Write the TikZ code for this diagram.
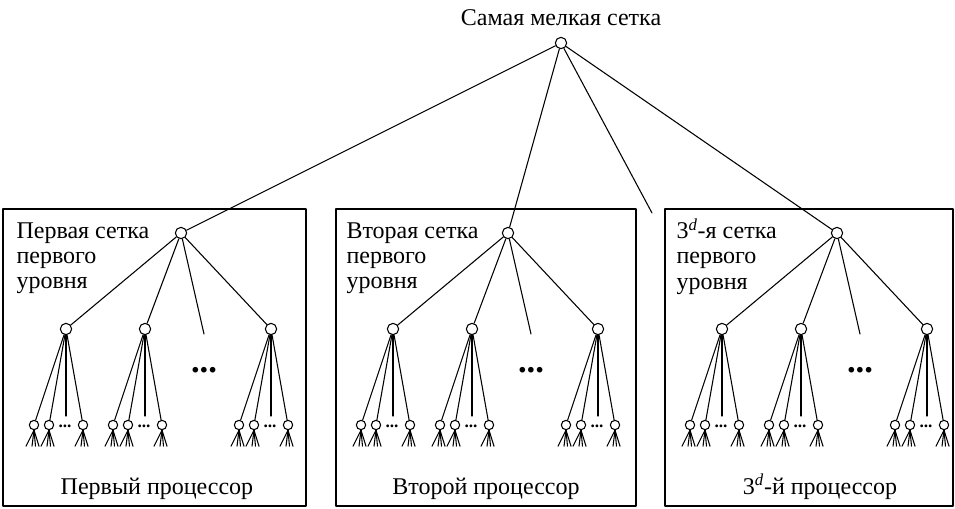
\documentclass[tikz,border=0pt]{standalone}
\usepackage{fontspec}
\setmainfont{Liberation Serif}
\usetikzlibrary{positioning,calc}

\tikzset{
  vertex/.style={circle,draw,fill=white,inner sep=0pt,minimum size=8.5pt},
  leaf/.style={circle,draw,fill=white,inner sep=0pt,minimum size=7pt},
  lbl/.style={font=\fontsize{18}{19}\selectfont,inner sep=0pt},
  dotsbig/.style={font=\fontsize{26}{26}\selectfont\bfseries,inner sep=0pt},
  dotssmall/.style={font=\fontsize{13}{13}\selectfont\bfseries,inner sep=0pt}
}
\newcommand{\dthree}{3\smash{\textsuperscript{\textit{d}}}}

\begin{document}
\begin{tikzpicture}[line cap=round,line join=round,x=0.75pt,y=-0.75pt,line width=0.8pt]
\useasboundingbox (0,0) rectangle (955,508);
% finest grid
\node[lbl,anchor=base] (title) at (561,25) {Самая мелкая сетка};
\node[vertex] (top) at (561,43) {};
\coordinate (topfree) at (652,213);
%
% boxes: number / left / right / root x / label x / processor x / texts
\foreach \i/\bl/\br/\rx/\tx/\px/\ptext/\ttext in {%
  1/3/306/181/16/157/{Первый процессор}/{Первая сетка},
  2/336/636/508/346/486/{Второй процессор}/{Вторая сетка},
  3/665/953/837/676/820/{\dthree-й процессор}/{\dthree-я сетка}}{
\draw (\bl,209) rectangle (\br,506);
\node[lbl,anchor=north west,align=left] (name\i) at (\tx,222) {\ttext\\первого\\уровня};
\node[lbl,anchor=base] (proc\i) at (\px,494) {\ptext};
\node[vertex] (g\i) at (\rx,233) {};
\draw (top) -- (g\i);
% second level
\node[vertex] (g\i a) at ($(g\i)+(-115,96)$) {};
\node[vertex] (g\i b) at ($(g\i)+(-36,96)$) {};
\node[vertex] (g\i d) at ($(g\i)+(90,96)$) {};
\coordinate (g\i c) at ($(g\i)+(23,101)$);
\node[dotsbig] (g\i dots) at ($(g\i)+(23,137)$) {...};
\foreach \s in {a,b,c,d} \draw (g\i) -- (g\i\s);
% leaves
\foreach \s in {a,b,d}{
  \node[leaf] (g\i\s1) at ($(g\i\s)+(-32,96)$) {};
  \node[leaf] (g\i\s2) at ($(g\i\s)+(-17,96)$) {};
  \node[leaf] (g\i\s4) at ($(g\i\s)+(17,96)$) {};
  \coordinate (g\i\s3) at ($(g\i\s)+(0,87)$);
  \node[dotssmall] (g\i\s dots) at ($(g\i\s)+(-1,97)$) {...};
  \foreach \l in {1,2,3,4} \draw (g\i\s) -- (g\i\s\l);
  \foreach \l in {1,2,4}{
    \draw (g\i\s\l.south) -- ++(-8,16);
    \draw (g\i\s\l.south) -- ++(-2,16);
    \draw (g\i\s\l.south) -- ++(1.5,16);
    \draw (g\i\s\l.south) -- ++(5,16);
  }
}
}
\draw (top) -- (topfree);
\end{tikzpicture}
\end{document}
